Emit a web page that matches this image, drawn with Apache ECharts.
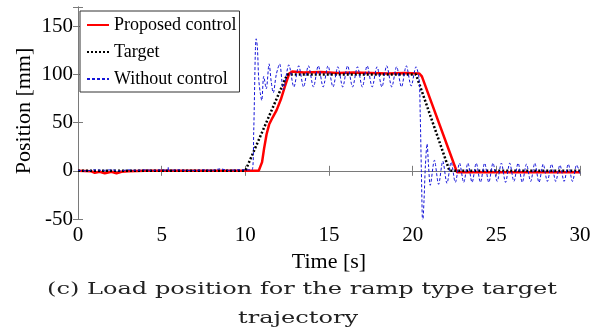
<!DOCTYPE html>
<html><head><meta charset="utf-8">
<script src="https://cdn.jsdelivr.net/npm/echarts@6/dist/echarts.min.js"></script>
<style>html,body{margin:0;padding:0;background:#fff}#c{width:604px;height:334px}</style>
</head><body><div id="c"></div>
<script>
// ---- data ----
const seriesNames = ['Proposed control', 'Target', 'Without control'];
const xTicks = [0, 5, 10, 15, 20, 25, 30];
const yTicks = [-50, 0, 50, 100, 150];
const xTitle = 'Time [s]';
const yTitle = 'Position [mm]';
const captionLines = ['(c) Load position for the ramp type target', 'trajectory'];

// [time s, position mm]
const proposed = [[0,0],[0.8,-0.5],[1,-2],[1.3,-1],[1.6,-2.5],[2,-1],[2.3,-2.5],[2.6,-1],[3,-0.5],[4,0],[5,0],[6,0],[7,0],[8,0],[9,0],[10,0],[10.8,0],[10.9,2],[11.0,9],[11.12,23],[11.27,38],[11.42,48],[11.62,55],[11.87,63],[12.12,74],[12.37,88],[12.62,101],[12.8,103],[13.5,102],[14.5,102.5],[15.5,101.5],[16.5,102],[17.5,101.5],[18.5,101],[19.5,101.5],[20.4,101],[20.55,98],[22.65,-1.5],[30,-1.5]];
const target = [[0,0],[10,0],[12.5,100],[20.2,100],[22.2,0],[30,0]];
const without = [[0,0.5],[0.5,0],[1,1],[1.5,0.5],[2,1],[2.5,0],[3,1],[3.5,0.5],[4,1],[4.5,0.5],[5,1],[5.35,0.5],[5.4,4],[5.45,0.5],[6,1],[6.5,0.5],[7,0.5],[7.5,1],[8,0.5],[8.5,2],[9,0.5],[9.5,1],[10,1],[10.4,1],
[10.5,40],[10.6,125],[10.65,137],[10.72,128],[10.8,95],[10.9,80],[10.98,73],[11.1,98],[11.25,85],[11.42,111],[11.55,92],[11.67,81],[11.85,100],[12.05,111],[12.27,84],[12.6,110],
[12.9,87],[13.19,109],[13.48,87],[13.77,109],[14.07,87],[14.36,109],[14.65,87],[14.94,109],[15.24,87],[15.53,108],[15.82,87],[16.11,109],[16.41,87],[16.7,108],[16.99,87],[17.28,109],[17.58,87],[17.87,108],[18.16,87],[18.45,109],[18.75,87],[19.04,108],[19.33,87],[19.62,109],[19.91,88],[20.2,108],[20.38,96],
[20.45,60],[20.52,0],[20.6,-55],[20.68,-30],[20.76,5],[20.86,28],[20.95,5],[21.05,-15],[21.3,11],[21.55,-14],[21.8,10],[22.05,-13],[22.3,9],[22.55,-12],[22.8,8],[23.05,-12],[23.3,8],[23.55,-12],[23.8,8],[24.05,-12],[24.3,8],[24.55,-12],[24.8,8],[25.05,-11],[25.3,8],[25.55,-12],[25.8,8],[26.05,-11],[26.3,8],[26.55,-12],[26.8,7],[27.05,-11],[27.3,8],[27.55,-12],[27.8,7],[28.05,-11],[28.3,7],[28.55,-11],[28.8,6],[29.05,-11],[29.3,7],[29.55,-11],[29.8,6],[30,-3]];

// ---- chart ----
const serif = 'Liberation Serif';
const chart = echarts.init(document.getElementById('c'), null, {renderer: 'canvas'});
const axisColor = '#7a7a7a';
const showTick = (v, list) => list.indexOf(v) >= 0 ? String(v) : '';

// caption scaling to match reference width
const capFont = '17px "DejaVu Serif"';
const ctx = document.createElement('canvas').getContext('2d');
ctx.font = capFont;
const w1 = ctx.measureText(captionLines[0]).width;
const capScale = 510 / w1;

chart.setOption({
  animation: false,
  grid: {left: 78, right: 24, top: 7, bottom: 115, containLabel: false},
  legend: {
    data: seriesNames, left: 80, top: 11, orient: 'vertical',
    backgroundColor: '#fff', borderColor: '#333', borderWidth: 1,
    padding: [5, 3, 4, 6], itemWidth: 22, itemHeight: 14, itemGap: 9,
    itemStyle: {color: 'rgba(0,0,0,0)', borderColor: 'rgba(0,0,0,0)', borderWidth: 0},
    textStyle: {fontFamily: serif, fontSize: 18, color: '#000', lineHeight: 14}
  },
  xAxis: [{
    type: 'value', min: 0, max: 30, interval: 5,
    name: xTitle, nameLocation: 'middle', nameGap: 28,
    nameTextStyle: {fontFamily: serif, fontSize: 22, color: '#000'},
    axisLine: {show: true, lineStyle: {color: axisColor}},
    axisTick: {inside: true, length: 5, lineStyle: {color: axisColor}},
    axisLabel: {fontFamily: serif, fontSize: 21, color: '#000', margin: 6, formatter: v => showTick(v, xTicks)},
    splitLine: {show: false}
  }, {
    type: 'value', min: 0, max: 30, interval: 5, position: 'top',
    axisLine: {show: true, lineStyle: {color: axisColor}},
    axisTick: {inside: true, length: 5, lineStyle: {color: axisColor}},
    axisLabel: {show: false}, splitLine: {show: false}
  }],
  yAxis: [{
    type: 'value', min: -50, max: 170, interval: 50,
    axisLine: {show: true, lineStyle: {color: axisColor}},
    axisTick: {inside: true, length: 5, lineStyle: {color: axisColor}},
    axisLabel: {fontFamily: serif, fontSize: 21, color: '#000', margin: 5, showMinLabel: true, formatter: v => showTick(v, yTicks)},
    splitLine: {show: false}
  }, {
    type: 'value', min: -50, max: 170, interval: 50, position: 'right',
    axisLine: {show: true, lineStyle: {color: axisColor}},
    axisTick: {inside: true, length: 5, lineStyle: {color: axisColor}},
    axisLabel: {show: false}, splitLine: {show: false}
  }],
  series: [
    {name: seriesNames[0], type: 'line', data: proposed, symbol: 'none', showSymbol: false, clip: true,
     itemStyle: {color: '#ff0000'}, lineStyle: {color: '#ff0000', width: 2.5}, z: 2},
    {name: seriesNames[1], type: 'line', data: target, symbol: 'none', showSymbol: false, clip: true,
     itemStyle: {color: '#000'}, lineStyle: {color: '#000', width: 2.5, type: [2, 2]}, z: 3},
    {name: seriesNames[2], type: 'line', data: without, symbol: 'none', showSymbol: false, clip: true, smooth: 0.3,
     itemStyle: {color: '#1515d8'}, lineStyle: {color: '#1515d8', width: 1, type: [3, 2]}, z: 4}
  ],
  graphic: [
    {type: 'text', x: 24, y: 111, rotation: Math.PI / 2,
     style: {text: yTitle, font: '22px "Liberation Serif"', fill: '#000', textAlign: 'center', textVerticalAlign: 'middle'}},
    {type: 'text', x: 47, y: 290, scaleX: capScale, originX: 0, originY: 0,
     style: {text: captionLines[0], font: capFont, fill: '#222', textAlign: 'left', textVerticalAlign: 'middle'}},
    {type: 'text', x: 238, y: 319, scaleX: capScale, originX: 0, originY: 0,
     style: {text: captionLines[1], font: capFont, fill: '#222', textAlign: 'left', textVerticalAlign: 'middle'}}
  ]
});
</script></body></html>
